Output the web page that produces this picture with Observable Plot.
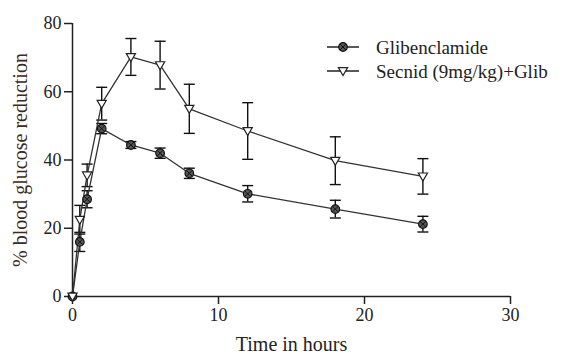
<!DOCTYPE html>
<html>
<head>
<meta charset="utf-8">
<script src="https://cdn.jsdelivr.net/npm/d3@7"></script>
<script src="https://cdn.jsdelivr.net/npm/@observablehq/plot@0.6"></script>
<style>
  html, body { margin: 0; padding: 0; background: #fff; }
  #chart { width: 564px; height: 354px; }
</style>
</head>
<body>
<div id="chart"></div>
<script>
const times = [0, 0.5, 1, 2, 4, 6, 8, 12, 18, 24];
const glib = [0, 16, 28.5, 49.2, 44.4, 42, 36.1, 30.1, 25.6, 21.2];
const glibErr = [0, 2.8, 2.5, 1.5, 1, 1.5, 1.5, 2.4, 2.6, 2.3];
const secnid = [0, 22.5, 35.5, 56.5, 70.2, 67.8, 55, 48.5, 39.8, 35.2];
const secnidErr = [0, 4.2, 3.3, 4.8, 5.4, 7, 7.2, 8.3, 7, 5.2];
const seriesNames = ["Glibenclamide", "Secnid (9mg/kg)+Glib"];
const xTicks = [0, 10, 20, 30];
const yTicks = [0, 20, 40, 60, 80];

const rows = [];
times.forEach((t, i) => {
  rows.push({t, v: glib[i], e: glibErr[i], s: seriesNames[0]});
  rows.push({t, v: secnid[i], e: secnidErr[i], s: seriesNames[1]});
});
const gRows = rows.filter(d => d.s === seriesNames[0]);
const sRows = rows.filter(d => d.s === seriesNames[1]);

const capSym = {draw(ctx) { ctx.moveTo(-5.5, 0); ctx.lineTo(5.5, 0); }};
const triSym = {draw(ctx) { ctx.moveTo(-4.6, -3.4); ctx.lineTo(4.6, -3.4); ctx.lineTo(0, 4.6); ctx.closePath(); }};
const crossSym = {draw(ctx) { const r = 3; ctx.moveTo(-r, -r); ctx.lineTo(r, r); ctx.moveTo(r, -r); ctx.lineTo(-r, r); }};

const font = "'Liberation Serif', 'Times New Roman', serif";
const ink = "#222";

const plot = Plot.plot({
  width: 564,
  height: 354,
  marginLeft: 72,
  marginRight: 54,
  marginTop: 23,
  marginBottom: 58,
  style: {fontFamily: font, background: "#fff", color: ink, overflow: "visible"},
  x: {domain: [0, 30]},
  y: {domain: [0, 80]},
  marks: [
    Plot.axisX({ticks: xTicks, tickSize: 8, tickPadding: 4, fontSize: 18, label: null, stroke: ink, strokeWidth: 1.5}),
    Plot.axisY({ticks: yTicks, tickSize: 8, tickPadding: 3, fontSize: 18, label: null, stroke: ink, strokeWidth: 1.5}),
    Plot.ruleX([0], {stroke: ink, strokeWidth: 1.5}),
    Plot.ruleY([0], {stroke: ink, strokeWidth: 1.5}),
    Plot.text(["Time in hours"], {frameAnchor: "bottom", dy: 54, fontSize: 20, fill: ink, textAnchor: "middle"}),
    Plot.text(["% blood glucose reduction"], {frameAnchor: "left", dx: -52, rotate: -90, fontSize: 20, fill: "#3a2a22", textAnchor: "middle"}),
    // error bars
    Plot.ruleX(rows.filter(d => d.e > 0), {x: "t", y1: d => d.v - d.e, y2: d => d.v + d.e, stroke: "#111", strokeWidth: 1.4}),
    Plot.dot(rows.filter(d => d.e > 0), {x: "t", y: d => d.v + d.e, symbol: capSym, stroke: "#111", strokeWidth: 1.4, r: 5}),
    Plot.dot(rows.filter(d => d.e > 0), {x: "t", y: d => d.v - d.e, symbol: capSym, stroke: "#111", strokeWidth: 1.4, r: 5}),
    // lines
    Plot.line(gRows, {x: "t", y: "v", stroke: "#333", strokeWidth: 1.3}),
    Plot.line(sRows, {x: "t", y: "v", stroke: "#333", strokeWidth: 1.3}),
    // markers
    Plot.dot(gRows, {x: "t", y: "v", r: 4.3, fill: "#555", stroke: "#111", strokeWidth: 1.2}),
    Plot.dot(gRows, {x: "t", y: "v", symbol: crossSym, r: 3, stroke: "#111", strokeWidth: 1}),
    Plot.dot(sRows, {x: "t", y: "v", symbol: triSym, r: 5, fill: "#fff", stroke: "#222", strokeWidth: 1.2})
  ]
});

document.getElementById("chart").appendChild(plot);

// legend
const svg = d3.select(plot);
const leg = svg.append("g").attr("font-family", font).attr("font-size", 19).attr("fill", ink).attr("text-anchor", "start");
const items = [
  {name: seriesNames[0], y: 47, kind: "circle"},
  {name: seriesNames[1], y: 71, kind: "tri"}
];
items.forEach(it => {
  leg.append("line").attr("x1", 327).attr("x2", 359).attr("y1", it.y).attr("y2", it.y)
    .attr("stroke", "#222").attr("stroke-width", 1.5);
  if (it.kind === "circle") {
    leg.append("circle").attr("cx", 343).attr("cy", it.y).attr("r", 4.3)
      .attr("fill", "#555").attr("stroke", "#111").attr("stroke-width", 1.2);
    leg.append("path").attr("transform", `translate(343,${it.y})`).attr("d", "M-3,-3L3,3M3,-3L-3,3")
      .attr("stroke", "#111").attr("stroke-width", 1);
  } else {
    leg.append("path").attr("transform", `translate(343,${it.y})`).attr("d", "M-4.6,-3.4L4.6,-3.4L0,4.6Z")
      .attr("fill", "#fff").attr("stroke", "#222").attr("stroke-width", 1.2);
  }
  leg.append("text").attr("x", 376).attr("y", it.y).attr("dy", "0.35em").attr("text-anchor", "start").text(it.name);
});
</script>
</body>
</html>
